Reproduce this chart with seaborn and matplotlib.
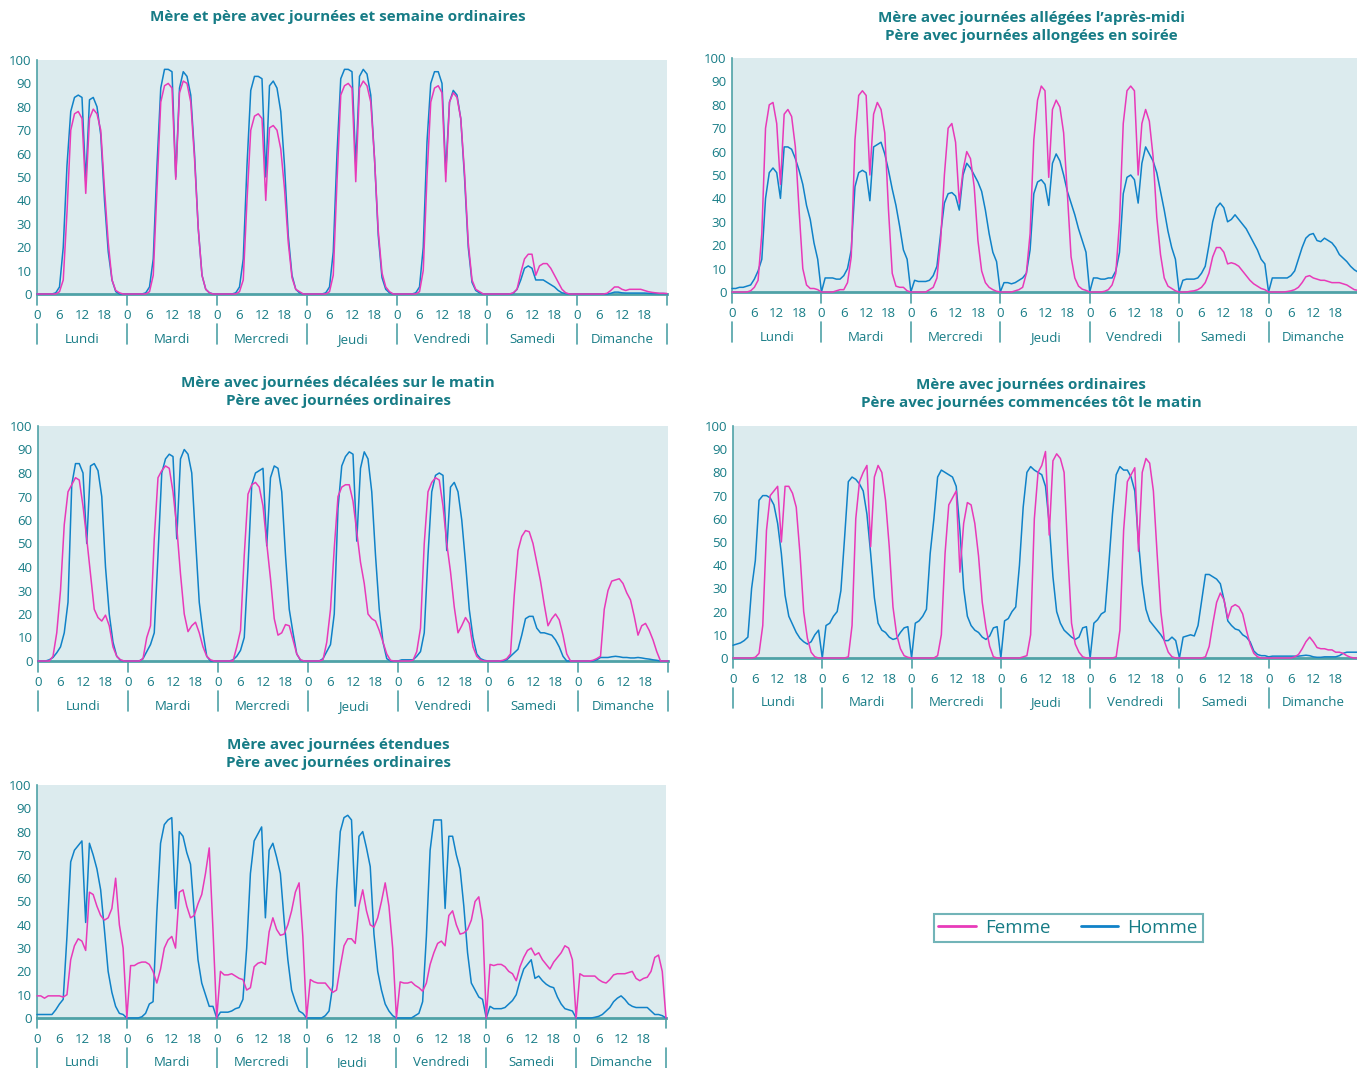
import numpy as np
import pandas as pd
import seaborn as sns
import matplotlib.pyplot as plt
from matplotlib.lines import Line2D

# Jours et repères horaires
jours = ["Lundi", "Mardi", "Mercredi", "Jeudi", "Vendredi", "Samedi", "Dimanche"]
heures_ticks = [0, 6, 12, 18]

titres = [
    "Mère et père avec journées et semaine ordinaires",
    "Mère avec journées allégées l’après-midi\nPère avec journées allongées en soirée",
    "Mère avec journées décalées sur le matin\nPère avec journées ordinaires",
    "Mère avec journées ordinaires\nPère avec journées commencées tôt le matin",
    "Mère avec journées étendues\nPère avec journées ordinaires",
]

# Valeurs horaires (0h..23h) par jour
# 1. Mère et père ordinaires
p1_femme = [
    [0, 0, 0, 0, 0, 0, 1, 6, 35, 70, 77, 78, 75, 43, 75, 79, 77, 70, 45, 22, 6, 1.5, 0.5, 0],
    [0, 0, 0, 0, 0, 0, 1, 8, 45, 82, 89, 90, 88, 49, 86, 91, 90, 82, 58, 28, 8, 2, 0.5, 0],
    [0, 0, 0, 0, 0, 0, 1, 6, 40, 70, 76, 77, 75, 40, 71, 72, 70, 62, 45, 22, 7, 2, 1, 0],
    [0, 0, 0, 0, 0, 0, 1, 8, 48, 85, 89, 90, 88, 48, 88, 91, 89, 82, 58, 27, 9, 3, 1, 0],
    [0, 0, 0, 0, 0, 0, 1, 10, 50, 82, 88, 89, 86, 48, 82, 86, 84, 75, 52, 22, 6, 2, 1, 0],
    [0, 0, 0, 0, 0, 0, 0, 0.5, 2, 9, 15, 17, 17, 8, 12, 13, 13, 11, 8, 5, 2, 0.5, 0, 0],
    [0, 0, 0, 0, 0, 0, 0, 0, 0.3, 1.5, 3, 3, 2, 1.5, 2, 2, 2, 2, 1.5, 1, 0.7, 0.5, 0.3, 0.3],
]
p1_homme = [
    [0, 0, 0, 0, 0, 0.5, 3, 20, 55, 78, 84, 85, 84, 48, 83, 84, 80, 68, 40, 18, 6, 1, 0, 0],
    [0, 0, 0, 0, 0, 0.5, 3, 15, 55, 88, 96, 96, 95, 50, 88, 95, 93, 85, 60, 28, 8, 2, 0.5, 0],
    [0, 0, 0, 0, 0, 0.5, 3, 15, 55, 87, 93, 93, 92, 50, 89, 91, 88, 78, 55, 25, 8, 2, 0.5, 0],
    [0, 0, 0, 0, 0, 0.5, 3, 18, 60, 92, 96, 96, 95, 55, 93, 96, 94, 85, 58, 25, 7, 2, 0.5, 0],
    [0, 0, 0, 0, 0, 0.5, 3, 20, 65, 90, 95, 95, 90, 52, 82, 87, 85, 75, 50, 20, 5, 1.5, 0.5, 0],
    [0, 0, 0, 0, 0, 0, 0, 0.3, 2, 6, 11, 12, 11, 6, 6, 6, 5, 4, 3, 1.5, 0.5, 0.2, 0, 0],
    [0, 0, 0, 0, 0, 0, 0, 0, 0, 0.3, 0.8, 0.8, 0.5, 0.4, 0.4, 0.4, 0.4, 0.4, 0.4, 0.3, 0.2, 0.2, 0.2, 0.2],
]

# 2. Mère allégée l'après-midi, père allongé en soirée
p2_femme = [
    [0, 0, 0, 0, 0, 0.5, 2, 5, 25, 70, 80, 81, 72, 46, 76, 78, 75, 62, 35, 10, 3, 1.5, 1.5, 1],
    [0, 0, 0, 0, 0.5, 1, 1, 4, 15, 65, 84, 86, 84, 50, 76, 81, 78, 68, 35, 8, 2.5, 2, 2, 0.5],
    [0, 0, 0, 0, 0, 1, 2, 6, 22, 50, 70, 72, 64, 38, 52, 60, 57, 45, 22, 9, 4, 2, 1, 0.3],
    [0, 0, 0, 0, 0.5, 1, 2, 8, 25, 65, 82, 88, 86, 49, 78, 82, 79, 68, 42, 15, 6, 2.5, 1.2, 0.7],
    [0, 0, 0, 0, 0.3, 1, 3, 8, 30, 72, 86, 88, 86, 50, 72, 78, 73, 58, 32, 16, 6, 2.5, 1.5, 0.5],
    [0, 0, 0, 0.3, 0.5, 1, 2, 4, 8, 15, 19, 19, 17, 12, 12.5, 12, 11, 9, 7, 5, 3.5, 2.5, 1.5, 1],
    [0, 0, 0, 0, 0, 0.2, 0.5, 1, 2, 4, 6.5, 7, 6, 5.5, 5, 5, 4.5, 4, 4, 4, 3.5, 3, 2, 1],
]
p2_homme = [
    [1.5, 1.5, 2, 2, 2.5, 3, 5.5, 9, 14, 40, 51, 53, 51, 40, 62, 62, 61, 57, 52, 46, 37, 31, 21, 14],
    [0, 6, 6, 6, 5.5, 5.5, 7, 10, 18, 45, 51, 52, 51, 39, 62, 63, 64, 59, 52, 44, 37, 28, 18, 14],
    [0, 5, 4.5, 4.5, 4.5, 5, 7, 11, 25, 38, 42, 42.5, 41, 35, 50, 55, 53, 50, 47, 43, 35, 25, 17, 13],
    [0, 4, 4, 3.5, 4, 5, 6, 8, 18, 42, 47, 48, 46, 37, 55, 59, 56, 50, 43, 38, 33, 27, 22, 17],
    [0, 6, 6, 5.5, 5.5, 6, 6, 9, 17, 42, 49, 50, 48, 38, 55, 62, 59, 56, 51, 43, 35, 26, 19, 14],
    [0, 5, 5.5, 5.5, 5.5, 6, 8, 11, 20, 30, 36, 38, 36, 30, 31, 33, 31, 29, 27, 24, 21, 18, 14, 12],
    [0, 6, 6, 6, 6, 6, 7, 9, 14, 19, 23, 24.5, 25, 22, 21.5, 23, 22, 21, 19, 16, 14.5, 13, 11, 9.5],
]

# 3. Mère décalée sur le matin, père ordinaire
p3_femme = [
    [0, 0, 0, 0, 2, 12, 30, 58, 72, 75, 78, 77, 66, 52, 37, 22, 18.5, 17, 19.5, 15, 6, 2, 0.5, 0],
    [0, 0, 0, 0, 1, 10, 15, 52, 78, 81, 83, 82, 72, 57, 37, 20, 12.5, 15, 16.5, 12, 6, 2, 0.5, 0],
    [0, 0, 0, 0, 0, 6, 13, 45, 71, 75, 76, 74, 66, 50, 35, 18, 11, 12, 15.5, 15, 9, 3, 0.5, 0],
    [0, 0, 0, 0, 0.5, 8, 22, 48, 70, 74, 75, 75, 68, 55, 42, 33, 20, 18, 17, 13, 8, 3, 0.3, 0],
    [0, 0, 0, 0, 0.3, 4, 14, 50, 72, 76, 78, 77, 66, 50, 38, 23, 12, 15, 18.5, 16, 6, 2, 0.5, 0],
    [0, 0, 0, 0, 0.3, 1, 3, 28, 47, 53, 55.5, 55, 50, 42, 34, 24, 15, 18, 20, 17.5, 11, 3, 0, 0],
    [0, 0, 0, 0, 0.3, 1, 2, 22, 30, 34, 34.5, 35, 33, 29, 26, 19, 11, 15, 16, 13, 9, 4, 0, 0],
]
p3_homme = [
    [0, 0, 0, 0.5, 1.5, 3.5, 6, 12, 25, 75, 84, 84, 80, 50, 83, 84, 81, 70, 40, 20, 8, 2, 0.3, 0],
    [0, 0, 0, 0, 1, 4, 7, 12, 45, 80, 86, 88, 87, 52, 86, 90, 88, 80, 52, 25, 12, 2, 0, 0],
    [0, 0, 0, 0, 0.5, 2, 4.5, 10, 40, 75, 80, 81, 82, 49, 78, 83, 82, 72, 45, 22, 12, 3, 0.3, 0],
    [0, 0, 0, 0, 1, 4, 7, 20, 65, 83, 87, 89, 88, 51, 82, 89, 86, 72, 45, 22, 8, 1, 0, 0],
    [0, 0.5, 0.5, 0.5, 0.5, 2, 4, 12, 45, 72, 79, 80, 79, 47, 74, 76, 72, 60, 42, 22, 10, 3, 1, 0.3],
    [0, 0, 0, 0, 0, 0.5, 2, 3.5, 5, 11, 18, 19, 19, 14, 12, 12, 11.5, 11, 9, 6, 2, 0, 0, 0],
    [0, 0, 0, 0, 0, 0.5, 1.5, 1.5, 1.5, 1.8, 2, 1.8, 1.5, 1.5, 1.3, 1.3, 1.5, 1.3, 1, 0.8, 0.5, 0.3, 0, 0],
]

# 4. Mère ordinaire, père commençant tôt le matin
p4_femme = [
    [0, 0, 0, 0, 0, 0, 0.3, 2, 14, 55, 70, 72, 74, 50, 74, 74, 71, 65, 45, 20, 8.5, 2.5, 0.5, 0],
    [0, 0, 0, 0, 0, 0, 0, 0.5, 14, 60, 76, 80, 83, 48, 78, 83, 80, 68, 48, 22, 10, 4, 1, 0.3],
    [0, 0, 0, 0, 0, 0, 0, 1, 10, 45, 66, 69, 72, 37, 58, 67, 66, 58, 44, 24, 13, 5, 0.5, 0],
    [0, 0, 0, 0, 0, 0, 0.5, 1, 10, 60, 80, 83, 89, 53, 85, 88, 86, 80, 45, 15, 6, 2.5, 0.5, 0],
    [0, 0, 0, 0, 0, 0, 0, 0.5, 12, 55, 76, 79, 82, 46, 80, 86, 84, 72, 45, 20, 7, 2.5, 0.5, 0],
    [0, 0, 0, 0, 0, 0, 0, 0.5, 5, 15, 24, 28, 25, 17, 22, 23, 22, 19, 12, 6, 2, 0.5, 0, 0],
    [0, 0, 0, 0, 0, 0, 0, 0.5, 1.5, 4, 7, 9, 7, 4.5, 4, 4, 3.5, 3.5, 2.5, 2.5, 2, 1, 0.3, 0],
]
p4_homme = [
    [5.5, 6, 6.5, 7.5, 9, 30, 42, 68, 70, 70, 69, 66, 58, 45, 27, 18, 14.5, 11, 8.5, 7, 6, 7, 10, 12],
    [0, 14, 15, 18, 20, 29, 52, 76, 78, 77, 75, 72, 62, 45, 26, 15, 12, 11, 9, 8, 8.5, 11, 13, 13.5],
    [0, 15, 16, 18, 21, 45, 60, 78, 81, 80, 79, 78, 74, 55, 30, 18, 14, 12, 11, 9, 8, 9.5, 13, 13.5],
    [0, 16, 17, 20, 22, 40, 65, 80, 82.5, 81, 80, 79, 74, 58, 35, 20, 15, 12, 10.5, 9, 8, 9, 13, 13.5],
    [0, 15, 16.5, 19, 20, 40, 62, 79, 82.5, 81, 81, 78, 72, 50, 32, 21, 16, 14, 12, 10, 7.5, 7.5, 9, 7.5],
    [0, 9, 9.5, 10, 9.5, 14, 25, 36, 36, 35, 34, 32, 25, 16, 14, 12.5, 12, 10, 9, 7, 3, 1.5, 1, 1],
    [0.5, 0.8, 0.8, 0.8, 0.8, 0.8, 0.8, 0.8, 0.8, 1, 1.2, 1, 0.5, 0.3, 0.3, 0.5, 0.5, 0.5, 0.5, 1, 2, 2.5, 2.5, 2.5],
]

# 5. Mère étendue, père ordinaire
p5_femme = [
    [9.5, 9.5, 8.5, 9.5, 9.5, 9.5, 9.5, 9, 10, 25, 31, 34, 33, 29, 54, 53, 48, 44, 42, 43, 47, 60, 40, 30],
    [0, 22.5, 22.5, 23.5, 24, 24, 23, 20, 15, 21, 30, 33.5, 35, 30, 54, 55, 48, 43, 44, 49, 53, 62, 73, 38],
    [0, 20, 18.5, 18.5, 19, 18, 17, 16.5, 12, 13, 22, 23.5, 24, 23, 37, 43, 38, 35.5, 36, 40, 46, 54, 58, 35],
    [0, 16.5, 15.5, 15, 15, 15, 13, 11, 12, 22, 31, 34, 34, 32, 48, 55, 46, 40, 39, 43, 50, 58, 48, 30],
    [0, 15.5, 15, 15, 15.5, 14, 13, 11.5, 15, 23, 28, 32, 33, 31, 44, 46, 40, 36, 36.5, 38, 42, 50, 52, 42],
    [0, 23, 22.5, 23, 23, 22, 20, 19, 16, 22, 26, 29, 30, 27, 28, 25, 23, 21, 24, 26, 28, 31, 30, 25],
    [0, 19, 18, 18, 18, 18, 16.5, 15.5, 15, 16.5, 18.5, 19, 19, 19, 19.5, 20, 17, 16, 17, 17.5, 20, 26, 27, 20],
]
p5_homme = [
    [1.5, 1.5, 1.5, 1.5, 1.5, 3.5, 6, 8, 35, 67, 72, 74, 76, 41, 75, 70, 64, 55, 38, 20, 11, 5, 2, 1.5],
    [0, 0, 0, 0, 0.5, 2, 6, 7, 45, 75, 83, 85, 86, 47, 80, 78, 71, 66, 45, 25, 15, 10, 5, 5],
    [0, 2.5, 2.5, 2.5, 3, 4, 4.5, 8, 30, 62, 76, 79, 82, 43, 72, 75, 69, 62, 42, 25, 12, 7, 3, 2],
    [0, 0, 0, 0, 0, 1, 3, 14, 55, 80, 86, 87, 85, 48, 78, 80, 73, 65, 36, 20, 12, 6, 3, 1],
    [0, 0, 0, 0, 0, 1, 2, 7, 35, 72, 85, 85, 85, 47, 78, 78, 70, 64, 48, 28, 15, 12, 9, 8],
    [0, 5, 4, 4, 4, 4.5, 6, 7.5, 10, 16, 21, 23, 25, 17, 18, 16, 14.5, 13.5, 13, 9, 6, 4, 3.5, 3],
    [0, 0, 0, 0, 0, 0.3, 0.7, 1.5, 3, 4.5, 7, 8.5, 9.5, 8, 6, 5, 4.5, 4.5, 4.5, 4.5, 3, 1.5, 1.5, 1],
]

# valeur à minuit en fin de semaine
fin_femme = [0.2, 0.7, 0, 0, 0]
fin_homme = [0.1, 8.5, 0, 2.5, 0]

femmes = [p1_femme, p2_femme, p3_femme, p4_femme, p5_femme]
hommes = [p1_homme, p2_homme, p3_homme, p4_homme, p5_homme]

# Style
sns.set_style("white")
plt.rcParams["font.family"] = ["Open Sans", "DejaVu Sans"]

TEXTE = "#177c86"
AXE = "#4fa2a7"
FOND = "#dcebee"
ROSE = "#e83ab9"
BLEU = "#1082c8"

W, H = 1357, 1068
fig = plt.figure(figsize=(W / 100, H / 100), dpi=100)

# position des panneaux en pixels : gauche, haut de l'axe (100), bas (0), droite
cadres = [
    (37, 60, 294, 667),
    (732, 58, 292, 1358),
    (38, 426, 661, 668),
    (733, 426, 658, 1358),
    (37, 785, 1018, 666),
]
titres_pos = [(338, 17), (1031, 27), (338, 392), (1031, 394), (338, 754)]


def panneau(i):
    g, haut, bas, d = cadres[i]
    ax = fig.add_axes([g / W, 1 - bas / H, (d - g) / W, (bas - haut) / H])
    ax.set_facecolor(FOND)

    n = len(jours) * 24
    heure = np.arange(n + 1)
    f = np.concatenate([np.ravel(femmes[i]), [fin_femme[i]]])
    h = np.concatenate([np.ravel(hommes[i]), [fin_homme[i]]])
    df = pd.DataFrame({
        "heure": np.concatenate([heure, heure]),
        "valeur": np.concatenate([h, f]),
        "sexe": ["Homme"] * len(heure) + ["Femme"] * len(heure),
    })
    sns.lineplot(data=df, x="heure", y="valeur", hue="sexe",
                 hue_order=["Homme", "Femme"],
                 palette={"Femme": ROSE, "Homme": BLEU},
                 linewidth=1.1, legend=False, ax=ax)
    for ln in ax.get_lines():
        ln.set_clip_on(False)
        ln.set_zorder(4)

    ax.set_xlim(0, n)
    ax.set_ylim(0, 100)
    ax.set_xlabel("")
    ax.set_ylabel("")
    for s in ["top", "right"]:
        ax.spines[s].set_visible(False)
    ax.spines["left"].set_color(AXE)
    ax.spines["left"].set_linewidth(1.2)
    ax.spines["bottom"].set_color(AXE)
    ax.spines["bottom"].set_linewidth(2)

    ax.set_yticks(range(0, 101, 10))
    ax.tick_params(axis="y", length=0, pad=4, labelsize=9.5, labelcolor=TEXTE)

    pos = [j * 24 + t for j in range(len(jours)) for t in heures_ticks]
    ax.set_xticks(pos)
    ax.set_xticklabels([str(t) for j in range(len(jours)) for t in heures_ticks])
    ax.tick_params(axis="x", length=0, pad=11, labelsize=9.5, labelcolor=TEXTE)

    tr = ax.get_xaxis_transform()
    for j in range(len(jours) + 1):
        ax.plot([j * 24, j * 24], [0, -0.045], transform=tr, color=AXE,
                lw=1.2, clip_on=False)
        ax.plot([j * 24, j * 24], [-0.128, -0.214], transform=tr, color=AXE,
                lw=1.2, clip_on=False)
    for j, nom in enumerate(jours):
        ax.text(j * 24 + 12, -0.208, nom, transform=tr, ha="center",
                va="baseline", fontsize=9.5, color=TEXTE)

    tx, ty = titres_pos[i]
    fig.text(tx / W, 1 - ty / H, titres[i], ha="center", va="center",
             fontsize=11, fontweight="bold", color=TEXTE, linespacing=1.45)
    return ax


for i in range(len(titres)):
    panneau(i)

poignees = [Line2D([], [], color=ROSE, lw=2), Line2D([], [], color=BLEU, lw=2)]
leg = fig.legend(poignees, ["Femme", "Homme"], loc="center",
                 bbox_to_anchor=(1068 / W, 1 - 928 / H), ncol=2, fontsize=13.5,
                 frameon=True, fancybox=False, edgecolor=AXE, labelcolor=TEXTE,
                 handlelength=2, handletextpad=0.5, columnspacing=1.6,
                 borderpad=0.25)
leg.get_frame().set_linewidth(1.5)

fig.savefig("out.png", dpi=100)
